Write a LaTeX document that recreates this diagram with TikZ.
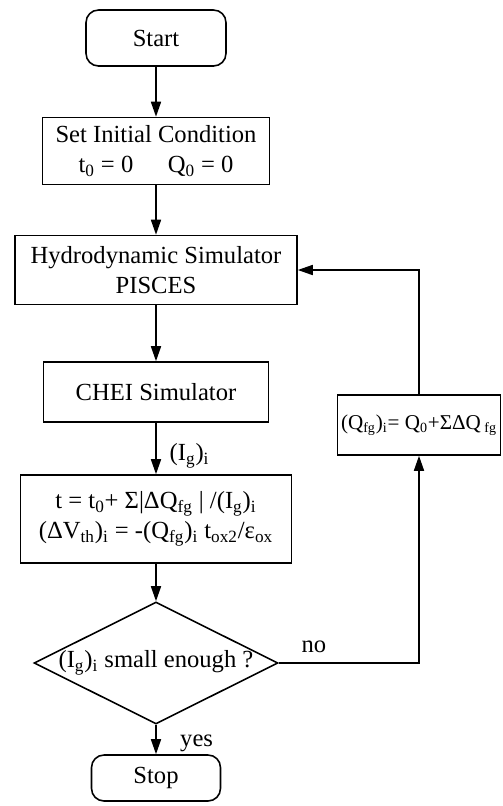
\documentclass[tikz,border=0pt]{standalone}
\usepackage{fontspec}
\setmainfont{Liberation Serif}
\usetikzlibrary{shapes.geometric,arrows.meta}
\newcommand{\sbs}[1]{\textsubscript{#1}}
\begin{document}
\begin{tikzpicture}[x=0.02cm, y=-0.02cm, line width=0.9pt,
  >={Triangle[length=3mm,width=2mm]},
  every node/.style={font=\fontsize{14}{17}\selectfont},
  box/.style={draw, align=center, inner sep=2pt},
  term/.style={draw, rounded corners=0.25cm, align=center}]
\useasboundingbox (0,0) rectangle (503,806);
\node[term, minimum width=2.8cm, minimum height=1.12cm] (start) at (156,38) {Start};
\node[box, minimum width=4.54cm, minimum height=1.34cm] (init) at (156,151) {Set Initial Condition\\t\sbs{0} = 0\hspace{1.4em}Q\sbs{0} = 0};
\node[box, minimum width=5.64cm, minimum height=1.38cm] (hydro) at (156,270) {Hydrodynamic Simulator\\PISCES};
\node[box, minimum width=4.5cm, minimum height=1.2cm] (chei) at (156,392) {CHEI Simulator};
\node[box, minimum width=5.42cm, minimum height=1.76cm] (update) at (156,519) {t = t\sbs{0}+ Σ|ΔQ\sbs{fg} | /(I\sbs{g})\sbs{i}\\(ΔV\sbs{th})\sbs{i} = -(Q\sbs{fg})\sbs{i} t\sbs{ox2}/ε\sbs{ox}};
\node[draw, diamond, aspect=2, inner sep=0pt, minimum width=4.14cm, minimum height=2.1cm] (check) at (156,663) {(I\sbs{g})\sbs{i} small enough ?};
\node[term, minimum width=2.58cm, minimum height=0.92cm] (stop) at (156,778) {Stop};
\node[box, inner sep=1pt, minimum width=3.26cm, minimum height=1.2cm, font=\fontsize{12}{14}\selectfont] (charge) at (419,425) {(Q\sbs{fg})\sbs{i}= Q\sbs{0}+ΣΔQ\sbs{ fg}};
\draw[->] (start) -- (init);
\draw[->] (init) -- (hydro);
\draw[->] (hydro) -- (chei);
\draw[->] (chei) -- node[right=4pt, yshift=-4pt] {(I\sbs{g})\sbs{i}} (update);
\draw[->] (update) -- (check);
\draw[->] (check) -- node[right=10pt, yshift=-2pt] {yes} (stop);
\draw[->] (check.east) -- node[pos=0.25, above=2pt] {no} (check.east -| charge.south) -- (charge.south);
\draw[->] (charge.north) |- (hydro.east);
\end{tikzpicture}
\end{document}
